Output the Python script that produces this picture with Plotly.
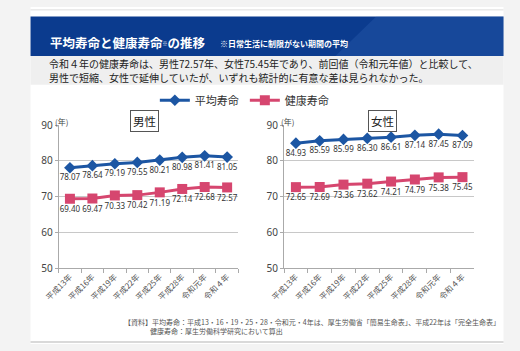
import plotly.graph_objects as go

W, H = 520, 351
FONT = "Noto Sans CJK JP"
NUMFONT = "Noto Sans"

categories = ["平成13年", "平成16年", "平成19年", "平成22年", "平成25年", "平成28年", "令和元年", "令和４年"]
male_life = [78.07, 78.64, 79.19, 79.55, 80.21, 80.98, 81.41, 81.05]
male_health = [69.40, 69.47, 70.33, 70.42, 71.19, 72.14, 72.68, 72.57]
female_life = [84.93, 85.59, 85.99, 86.30, 86.61, 87.14, 87.45, 87.09]
female_health = [72.65, 72.69, 73.36, 73.62, 74.21, 74.79, 75.38, 75.45]

BLUE = "#1c56a3"
PINK = "#d6466f"


def px(x):
    return x / W


def py(y):
    return 1 - y / H


fig = go.Figure()

for i, (life, health) in enumerate([(male_life, male_health), (female_life, female_health)]):
    xa = "x" if i == 0 else "x2"
    ya = "y" if i == 0 else "y2"
    fig.add_trace(go.Scatter(
        x=categories, y=life, xaxis=xa, yaxis=ya, name="平均寿命",
        mode="lines+markers+text", showlegend=(i == 0),
        line=dict(color=BLUE, width=3),
        marker=dict(symbol="diamond", size=9, color=BLUE),
        text=[f"{v:.2f}" for v in life], textposition="bottom center",
        textfont=dict(size=8, color="#333", family=NUMFONT),
        cliponaxis=False,
    ))
    fig.add_trace(go.Scatter(
        x=categories, y=health, xaxis=xa, yaxis=ya, name="健康寿命",
        mode="lines+markers+text", showlegend=(i == 0),
        line=dict(color=PINK, width=3),
        marker=dict(symbol="square", size=10, color=PINK),
        text=[f"{v:.2f}" for v in health], textposition="bottom center",
        textfont=dict(size=8, color="#333", family=NUMFONT),
        cliponaxis=False,
    ))

xcommon = dict(type="category", range=[-0.5, 7.5], tickson="boundaries", ticks="outside",
               ticklen=4, tickcolor="#aaa", showline=True, linecolor="#aaa", linewidth=1,
               showgrid=False, tickangle=-45, tickfont=dict(size=8, color="#555", family=FONT),
               fixedrange=True)
ycommon = dict(range=[50, 90], dtick=10, showline=True, linecolor="#aaa", linewidth=1,
               ticks="outside", ticklen=3, tickcolor="#aaa",
               gridcolor="#c8c8c8", gridwidth=1, zeroline=False,
               tickfont=dict(size=10, color="#444", family=NUMFONT), fixedrange=True)

ydom = [py(272), py(123)]
fig.update_layout(
    xaxis=dict(domain=[px(45), px(230)], anchor="y", **xcommon),
    yaxis=dict(domain=ydom, anchor="x", **ycommon),
    xaxis2=dict(domain=[px(277), px(473)], anchor="y2", **xcommon),
    yaxis2=dict(domain=ydom, anchor="x2", **ycommon),
)

shapes = [
    dict(type="rect", xref="paper", yref="paper", x0=px(16), x1=px(503), y0=py(351), y1=py(0),
         fillcolor="white", line=dict(width=0), layer="below"),
    dict(type="line", xref="paper", yref="paper", x0=px(16), x1=px(503), y0=py(3), y1=py(3),
         line=dict(color="#dddddd", width=1), layer="below"),
    dict(type="rect", xref="paper", yref="paper", x0=px(16), x1=px(503), y0=py(51), y1=py(10),
         fillcolor="#0b3b8e", line=dict(width=0), layer="below"),
    dict(type="path", xref="paper", yref="paper",
         path=f"M {px(330)} {py(51)} L {px(372)} {py(10)} L {px(503)} {py(10)} L {px(503)} {py(51)} Z",
         fillcolor="rgba(70,120,200,0.22)", line=dict(width=0), layer="below"),
    dict(type="rect", xref="paper", yref="paper", x0=px(16), x1=px(503), y0=py(81), y1=py(51),
         fillcolor="#efefef", line=dict(width=0), layer="below"),
    dict(type="line", xref="paper", yref="paper", x0=px(16), x1=px(503), y0=py(349), y1=py(349),
         line=dict(color="#cccccc", width=1.5), layer="below"),
]

ann = [
    dict(text="<b>平均寿命と健康寿命<span style='font-size:7px'><sup>※</sup></span>の推移</b>",
         x=px(34), y=py(37), xanchor="left", yanchor="middle",
         font=dict(size=12.5, color="white", family=FONT)),
    dict(text="<b>※日常生活に制限がない期間の平均</b>", x=px(209), y=py(38), xanchor="left", yanchor="middle",
         font=dict(size=8, color="white", family=FONT)),
    dict(text="令和４年の健康寿命は、男性72.57年、女性75.45年であり、前回値（令和元年値）と比較して、",
         x=px(33), y=py(59), xanchor="left", yanchor="middle", align="left",
         font=dict(size=10, color="#222", family=FONT)),
    dict(text="男性で短縮、女性で延伸していたが、いずれも統計的に有意な差は見られなかった。",
         x=px(33), y=py(73), xanchor="left", yanchor="middle", align="left",
         font=dict(size=10, color="#222", family=FONT)),
    dict(text="(年)", x=px(39), y=py(119), xanchor="left", yanchor="middle",
         font=dict(size=8, color="#444", family=FONT)),
    dict(text="(年)", x=px(272), y=py(119), xanchor="left", yanchor="middle",
         font=dict(size=8, color="#444", family=FONT)),
    dict(text="男性", x=px(133), y=py(119), xanchor="center", yanchor="middle",
         font=dict(size=11.5, color="#222", family=FONT), bgcolor="white",
         bordercolor="#555", borderwidth=1, borderpad=2),
    dict(text="女性", x=px(378), y=py(119), xanchor="center", yanchor="middle",
         font=dict(size=11.5, color="#222", family=FONT), bgcolor="white",
         bordercolor="#555", borderwidth=1, borderpad=2),
    dict(text="【資料】平均寿命：平成13・16・19・25・28・令和元・4年は、厚生労働省「簡易生命表」、平成22年は「完全生命表」",
         x=px(110), y=py(328), xanchor="left", yanchor="middle",
         font=dict(size=7, color="#555", family=FONT)),
    dict(text="健康寿命：厚生労働科学研究において算出", x=px(137), y=py(337), xanchor="left", yanchor="middle",
         font=dict(size=7, color="#555", family=FONT)),
]
for a in ann:
    a.update(xref="paper", yref="paper", showarrow=False)

fig.update_layout(
    width=W, height=H, margin=dict(l=0, r=0, t=0, b=0),
    paper_bgcolor="#f3f3f3", plot_bgcolor="rgba(0,0,0,0)",
    font=dict(family=FONT),
    shapes=shapes, annotations=ann,
    legend=dict(orientation="h", x=px(144), y=py(82), xanchor="left", yanchor="top",
                font=dict(size=11, color="#333", family=FONT), bgcolor="rgba(0,0,0,0)",
                entrywidth=45, entrywidthmode="pixels", itemwidth=30),
)

fig.write_html("out.html")
